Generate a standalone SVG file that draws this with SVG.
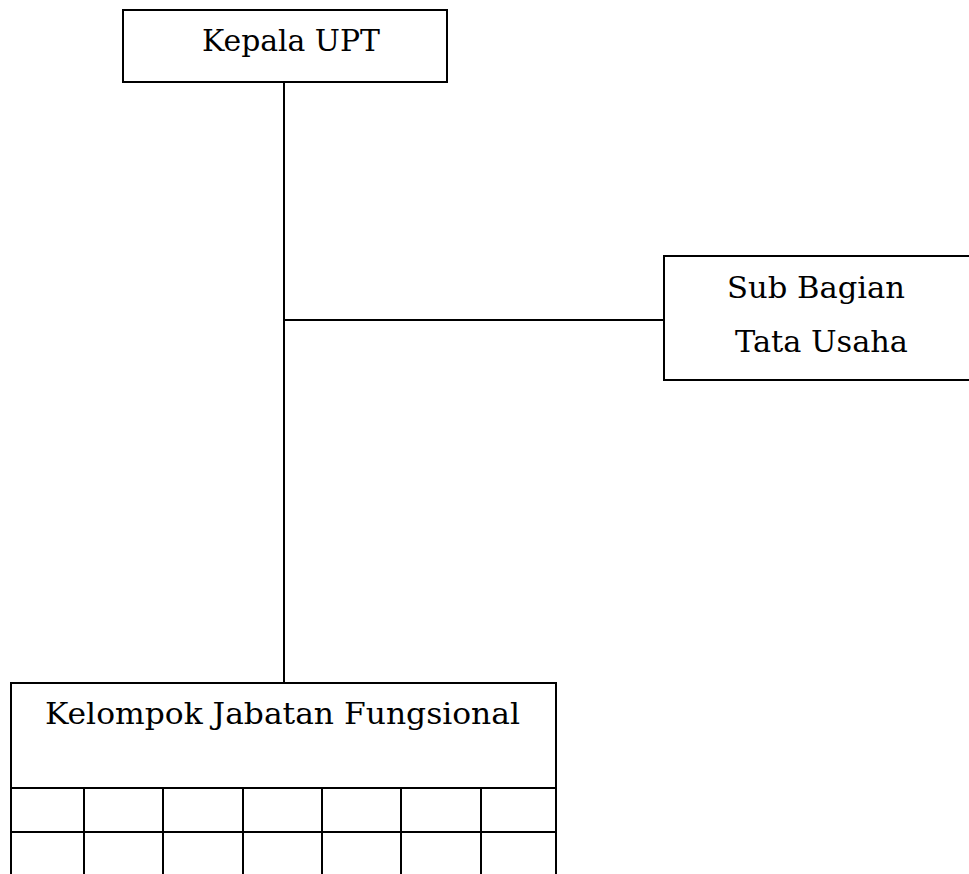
<svg xmlns="http://www.w3.org/2000/svg" width="969" height="874" viewBox="0 0 969 874">
<style>
.box{fill:#fff;stroke:#000;stroke-width:2}
.ln{stroke:#000;stroke-width:2;fill:none}
.t{font-family:"DejaVu Serif","Liberation Serif",serif;font-size:30px;fill:#000}
</style>
<rect width="969" height="874" fill="#fff"/>
<g id="connectors">
<line class="ln" x1="284" y1="82" x2="284" y2="683"/>
<line class="ln" x1="284" y1="320" x2="664" y2="320"/>
</g>
<g id="kepala">
<rect class="box" x="123" y="10" width="324" height="72"/>
<text class="t" x="202" y="51" textLength="178" lengthAdjust="spacingAndGlyphs">Kepala UPT</text>
</g>
<g id="subbagian">
<rect class="box" x="664" y="256" width="320" height="124"/>
<text class="t" x="727" y="298" textLength="178" lengthAdjust="spacingAndGlyphs">Sub Bagian</text>
<text class="t" x="735" y="352" textLength="173" lengthAdjust="spacingAndGlyphs">Tata Usaha</text>
</g>
<g id="kelompok">
<rect class="box" x="11" y="683" width="545" height="200"/>
<text class="t" x="45" y="724" textLength="475" lengthAdjust="spacingAndGlyphs">Kelompok Jabatan Fungsional</text>
<line class="ln" x1="11" y1="788" x2="556" y2="788"/>
<line class="ln" x1="11" y1="832" x2="556" y2="832"/>
<line class="ln" x1="84" y1="787" x2="84" y2="874"/>
<line class="ln" x1="163" y1="787" x2="163" y2="874"/>
<line class="ln" x1="243" y1="787" x2="243" y2="874"/>
<line class="ln" x1="322" y1="787" x2="322" y2="874"/>
<line class="ln" x1="401" y1="787" x2="401" y2="874"/>
<line class="ln" x1="481" y1="787" x2="481" y2="874"/>
</g>
</svg>
